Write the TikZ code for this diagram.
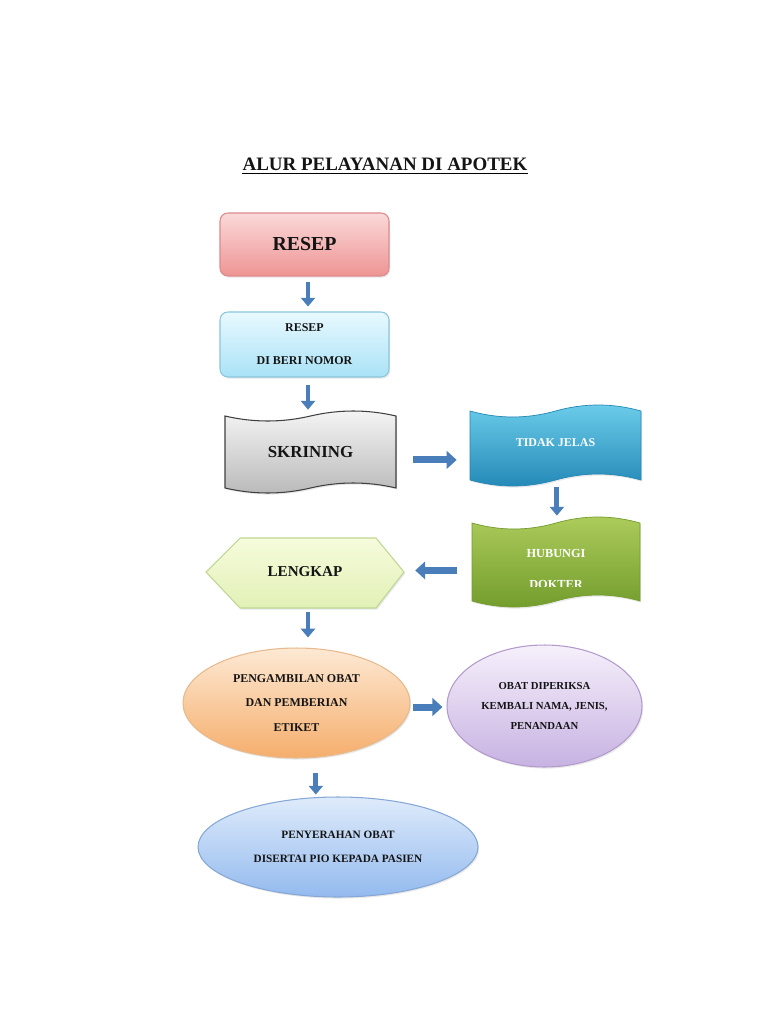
\documentclass[tikz,border=0pt]{standalone}
\usepackage{fontspec}
\setmainfont{Liberation Serif}
\usetikzlibrary{arrows.meta,shapes.geometric,shadows}

\definecolor{arrowblue}{HTML}{4A7EBB}
\definecolor{pinktop}{HTML}{FBD9D9}
\definecolor{pinkbot}{HTML}{EE9494}
\definecolor{pinkline}{HTML}{DE8A8A}
\definecolor{cyantop}{HTML}{E9F9FF}
\definecolor{cyanbot}{HTML}{A9E2F6}
\definecolor{cyanline}{HTML}{8CC6DA}
\definecolor{greytop}{HTML}{F5F5F5}
\definecolor{greybot}{HTML}{B9B9B9}
\definecolor{bluetop}{HTML}{6CCDEA}
\definecolor{bluebot}{HTML}{2388B6}
\definecolor{greentop}{HTML}{ADCC5C}
\definecolor{greenbot}{HTML}{729C2C}
\definecolor{hextop}{HTML}{F6FBDC}
\definecolor{hexbot}{HTML}{E2F1B6}
\definecolor{hexline}{HTML}{BFD795}
\definecolor{orgtop}{HTML}{FDE9D4}
\definecolor{orgbot}{HTML}{F5AE6C}
\definecolor{orgline}{HTML}{E7B98C}
\definecolor{purtop}{HTML}{F6F0FB}
\definecolor{purbot}{HTML}{C7B2E2}
\definecolor{purline}{HTML}{B39ACD}
\definecolor{skytop}{HTML}{DFEBFB}
\definecolor{skybot}{HTML}{93BAEE}
\definecolor{skyline}{HTML}{85A8D6}
\definecolor{ink}{HTML}{141414}

%% wave outline: left, top, right, bottom, amplitude
\newcommand{\wavepath}[5]{%
  ({#1},{#2}) .. controls ({#1+(#3-#1)/6},{#2+4*#5/3}) and ({#1+(#3-#1)/3},{#2+4*#5/3}) .. ({(#1+#3)/2},{#2})
  .. controls ({#1+2*(#3-#1)/3},{#2-4*#5/3}) and ({#1+5*(#3-#1)/6},{#2-4*#5/3}) .. ({#3},{#2})
  -- ({#3},{#4}) .. controls ({#1+5*(#3-#1)/6},{#4-4*#5/3}) and ({#1+2*(#3-#1)/3},{#4-4*#5/3}) .. ({(#1+#3)/2},{#4})
  .. controls ({#1+(#3-#1)/3},{#4+4*#5/3}) and ({#1+(#3-#1)/6},{#4+4*#5/3}) .. ({#1},{#4}) -- cycle}

\begin{document}
\begin{tikzpicture}[x=0.02cm, y=-0.02cm, text=ink,
    softshadow/.style={drop shadow={opacity=0.18, shadow xshift=0.7pt, shadow yshift=-0.9pt}},
    rbox/.style={rectangle, rounded corners=4.5pt, inner sep=0pt, align=center, line width=0.6pt, softshadow},
    ellip/.style={ellipse, inner sep=0pt, align=center, line width=0.6pt, softshadow},
    lbl/.style={inner sep=0pt, align=center},
    varrow/.style={draw=arrowblue, line width=2.8pt, -{Triangle[width=8pt,length=5pt]}},
    harrow/.style={draw=arrowblue, line width=4pt, -{Triangle[width=10pt,length=5.7pt]}}]
  \useasboundingbox[fill=white] (0,0) rectangle (768,1024);

  %% Title
  \node[lbl, anchor=base, font=\fontsize{10.8}{13}\selectfont\bfseries] (judul) at (385,170) {ALUR PELAYANAN DI APOTEK};
  \draw[line width=0.6pt] ([yshift=-1.8pt]judul.base west) -- ([yshift=-1.8pt]judul.base east);

  %% Rounded boxes
  \node[rbox, top color=pinktop, bottom color=pinkbot, draw=pinkline,
        minimum width=3.38cm, minimum height=1.26cm,
        font=\fontsize{11.3}{14}\selectfont\bfseries] (resep) at (304.5,244.5) {RESEP};
  \node[rbox, top color=cyantop, bottom color=cyanbot, draw=cyanline,
        minimum width=3.38cm, minimum height=1.30cm,
        font=\fontsize{6.8}{18.7}\selectfont\bfseries] (nomor) at (304.5,344.5) {RESEP\\DI BERI NOMOR};

  %% Wave shapes
  \path[top color=greytop, bottom color=greybot, draw=black!75, line width=0.6pt, softshadow] \wavepath{225}{416}{396}{488}{5};
  \node[lbl, minimum width=3.42cm, minimum height=1.44cm,
        font=\fontsize{9.6}{12}\selectfont\bfseries] (skr) at (310.5,452) {SKRINING};

  \path[top color=bluetop, bottom color=bluebot, draw=bluebot, line width=0.4pt, softshadow] \wavepath{470}{411}{641}{480}{6};
  \node[lbl, minimum width=3.42cm, minimum height=1.36cm, text=white,
        font=\fontsize{6.8}{9}\selectfont\bfseries] (tidak) at (555.5,443) {TIDAK JELAS};

  \path[top color=greentop, bottom color=greenbot, draw=greenbot, line width=0.4pt, softshadow] \wavepath{472}{523}{640}{601}{6};
  \begin{scope}
    \clip (460,500) rectangle (660,586);
    \node[lbl, minimum width=3.36cm, minimum height=1.56cm, text=white,
          font=\fontsize{7}{17.6}\selectfont\bfseries] (hub) at (556,569) {HUBUNGI\\DOKTER};
  \end{scope}

  %% Hexagon
  \path[top color=hextop, bottom color=hexbot, draw=hexline, line width=0.6pt, softshadow]
    (206,572) -- (240,538) -- (376,538) -- (404,572) -- (376,608) -- (240,608) -- cycle;
  \node[lbl, minimum width=3.96cm, minimum height=1.40cm,
        font=\fontsize{8.6}{11}\selectfont\bfseries] (lengkap) at (305,572) {LENGKAP};

  %% Ellipses
  \node[ellip, top color=orgtop, bottom color=orgbot, draw=orgline,
        minimum width=4.54cm, minimum height=2.20cm,
        font=\fontsize{6.8}{13.9}\selectfont\bfseries] (peng) at (296.5,703) {PENGAMBILAN OBAT\\DAN PEMBERIAN\\ETIKET};
  \node[ellip, top color=purtop, bottom color=purbot, draw=purline,
        minimum width=3.90cm, minimum height=2.44cm,
        font=\fontsize{6.1}{11.6}\selectfont\bfseries] (obat) at (544.5,706) {OBAT DIPERIKSA\\KEMBALI NAMA, JENIS,\\PENANDAAN};
  \node[ellip, top color=skytop, bottom color=skybot, draw=skyline,
        minimum width=5.60cm, minimum height=2.00cm,
        font=\fontsize{6.4}{14}\selectfont\bfseries] (peny) at (338,847) {PENYERAHAN OBAT\\DISERTAI PIO KEPADA PASIEN};

  %% Arrows
  \draw[varrow, shorten <=3.4pt, shorten >=2.8pt] ([xshift=2pt]resep.south) -- ([xshift=2pt]resep.south |- nomor.north);
  \draw[varrow, shorten <=4.5pt, shorten >=3.4pt] ([xshift=2pt]nomor.south) -- ([xshift=2pt]nomor.south |- skr.north);
  \draw[harrow, shorten <=9.6pt, shorten >=7.4pt] ([yshift=-4.5pt]skr.east) -- ([yshift=-4.5pt]skr.east -| tidak.west);
  \draw[varrow, shorten <=5.7pt, shorten >=8pt] ([xshift=0.8pt]tidak.south) -- ([xshift=0.8pt]tidak.south |- hub.north);
  \draw[harrow, shorten <=8.5pt, shorten >=6.2pt] ([yshift=-0.8pt]hub.west) -- ([yshift=-0.8pt]hub.west -| lengkap.east);
  \draw[varrow, shorten <=2.8pt, shorten >=5.7pt] ([xshift=1.7pt]lengkap.south) -- ([xshift=1.7pt]lengkap.south |- peng.north);
  \draw[harrow, shorten <=1.7pt, shorten >=2.3pt] ([yshift=-2.3pt]peng.east) -- ([yshift=-2.3pt]peng.east -| obat.west);
  \draw[varrow, shorten <=8.5pt, shorten >=1.1pt] ([xshift=11pt]peng.south) -- ([xshift=11pt]peng.south |- peny.north);
\end{tikzpicture}
\end{document}
